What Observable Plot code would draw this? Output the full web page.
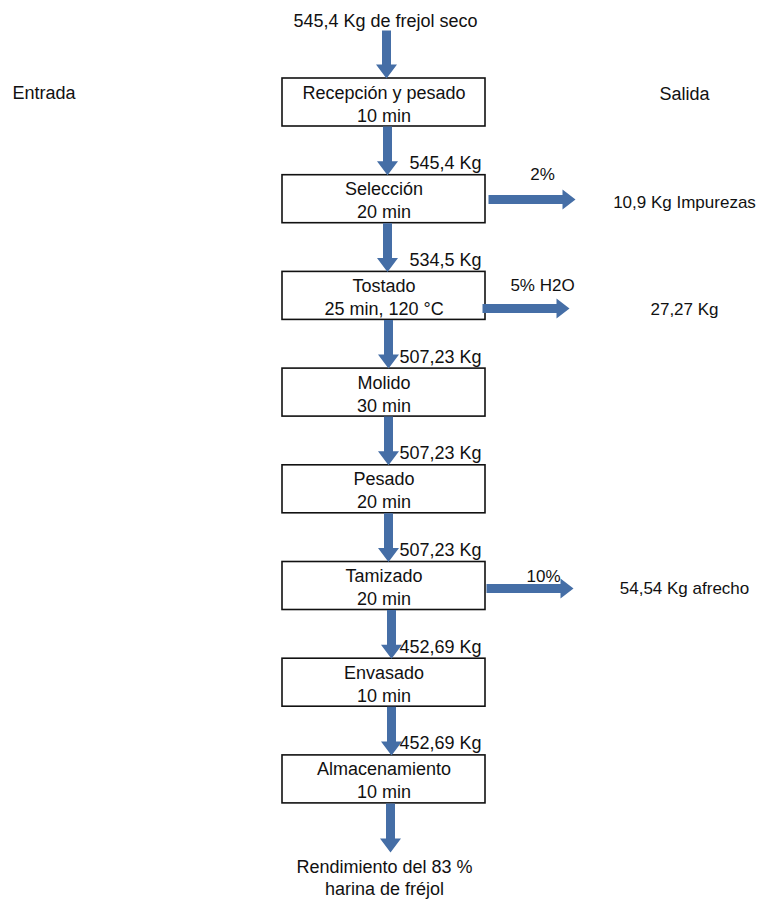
<!DOCTYPE html>
<html>
<head>
<meta charset="utf-8">
<script src="https://cdn.jsdelivr.net/npm/d3@7"></script>
<script src="https://cdn.jsdelivr.net/npm/@observablehq/plot@0.6"></script>
<style>
  html, body { margin: 0; padding: 0; background: #ffffff; }
  #chart svg { display: block; }
</style>
</head>
<body>
<div id="chart"></div>
<script>
// ---- Data ----
const inputLabel = "545,4 Kg de frejol seco";
const sideHeaders = ["Entrada", "Salida"];
const steps = ["Recepción y pesado", "Selección", "Tostado", "Molido", "Pesado", "Tamizado", "Envasado", "Almacenamiento"];
const times = ["10 min", "20 min", "25 min, 120 °C", "30 min", "20 min", "20 min", "10 min", "10 min"];
// flow entering steps 2..8
const inflows = ["545,4 Kg", "534,5 Kg", "507,23 Kg", "507,23 Kg", "507,23 Kg", "452,69 Kg", "452,69 Kg"];
const outStep = [1, 2, 5];
const outPct = ["2%", "5% H2O", "10%"];
const outAmount = ["10,9 Kg Impurezas", "27,27 Kg", "54,54 Kg afrecho"];
const finalLabel = ["Rendimiento del 83 %", "harina de fréjol"];

// ---- Layout ----
const W = 758, H = 899;
const boxX1 = 282, boxX2 = 485, boxH = 48;
const boxTop = i => 78 + i * 96.7;
const arrowX = [386, 387, 387, 388, 388, 388, 391, 391, 390];
const outArrowX1 = [488, 482, 486], outArrowX2 = [575, 569, 573], outArrowY = [199, 308, 588];
const outPctX = [542, 542, 543], outPctY = [179, 290, 581];
const outAmtX = [684, 684, 684], outAmtY = [207, 314, 593];
const blue = "#456ea6";

const boxes = steps.map((s, i) => ({s, t: times[i], y1: boxTop(i), y2: boxTop(i) + boxH}));

// arrow polygons
const arrowPts = [];
function vArrow(id, x, y1, y2) {
  const sw = 4.5, hw = 10.5, hl = 14;
  [[x - sw, y1], [x + sw, y1], [x + sw, y2 - hl], [x + hw, y2 - hl], [x, y2], [x - hw, y2 - hl], [x - sw, y2 - hl]]
    .forEach(([px, py]) => arrowPts.push({id, x: px, y: py}));
}
function hArrow(id, x1, x2, y) {
  const sw = 4.5, hw = 10, hl = 13;
  [[x1, y - sw], [x2 - hl, y - sw], [x2 - hl, y - hw], [x2, y], [x2 - hl, y + hw], [x2 - hl, y + sw], [x1, y + sw]]
    .forEach(([px, py]) => arrowPts.push({id, x: px, y: py}));
}
vArrow("in", arrowX[0], 30, boxTop(0));
for (let i = 0; i < steps.length - 1; i++) vArrow("v" + i, arrowX[i + 1], boxTop(i) + boxH, boxTop(i + 1));
vArrow("out", arrowX[8], boxTop(7) + boxH, 852);
outStep.forEach((s, k) => hArrow("h" + k, outArrowX1[k], outArrowX2[k], outArrowY[k]));

const inflowData = inflows.map((t, i) => ({t, y: boxTop(i + 1) - 6}));
const outData = outStep.map((s, k) => ({pct: outPct[k], amt: outAmount[k], k}));

const font = "'Liberation Sans', Arial, sans-serif";

const chart = Plot.plot({
  width: W, height: H, margin: 0,
  x: {domain: [0, W], range: [0, W], axis: null},
  y: {domain: [0, H], range: [0, H], axis: null},
  style: {fontFamily: font, background: "#ffffff"},
  marks: [
    Plot.rect(boxes, {x1: boxX1, x2: boxX2, y1: "y1", y2: "y2", fill: "#ffffff", stroke: "#111111", strokeWidth: 1.6}),
    Plot.line(arrowPts, {x: "x", y: "y", z: "id", fill: blue, stroke: "none", curve: "linear-closed"}),
    Plot.text(boxes, {x: (boxX1 + boxX2) / 2, y: d => d.y1 + 20, text: "s", fontSize: 18, fill: "#111", lineAnchor: "bottom"}),
    Plot.text(boxes, {x: (boxX1 + boxX2) / 2, y: d => d.y1 + 43, text: "t", fontSize: 18, fill: "#111", lineAnchor: "bottom"}),
    Plot.text(inflowData, {x: 481, y: "y", text: "t", fontSize: 18, fill: "#111", textAnchor: "end", lineAnchor: "bottom"}),
    Plot.text([inputLabel], {x: 385, y: 26, text: d => d, fontSize: 18, fill: "#111", lineAnchor: "bottom"}),
    Plot.text([sideHeaders[0]], {x: 12, y: 98, text: d => d, fontSize: 18, fill: "#111", textAnchor: "start", lineAnchor: "bottom"}),
    Plot.text([sideHeaders[1]], {x: 659, y: 99, text: d => d, fontSize: 18, fill: "#111", textAnchor: "start", lineAnchor: "bottom"}),
    Plot.text(outData, {x: d => outPctX[d.k], y: d => outPctY[d.k], text: "pct", fontSize: 17, fill: "#111", lineAnchor: "bottom"}),
    Plot.text(outData, {x: d => outAmtX[d.k], y: d => outAmtY[d.k], text: "amt", fontSize: 17, fill: "#111", lineAnchor: "bottom"}),
    Plot.text(finalLabel, {x: 384, y: (d, i) => 872 + i * 22, text: d => d, fontSize: 18, fill: "#111", lineAnchor: "bottom"})
  ]
});
document.getElementById("chart").appendChild(chart);
</script>
</body>
</html>
